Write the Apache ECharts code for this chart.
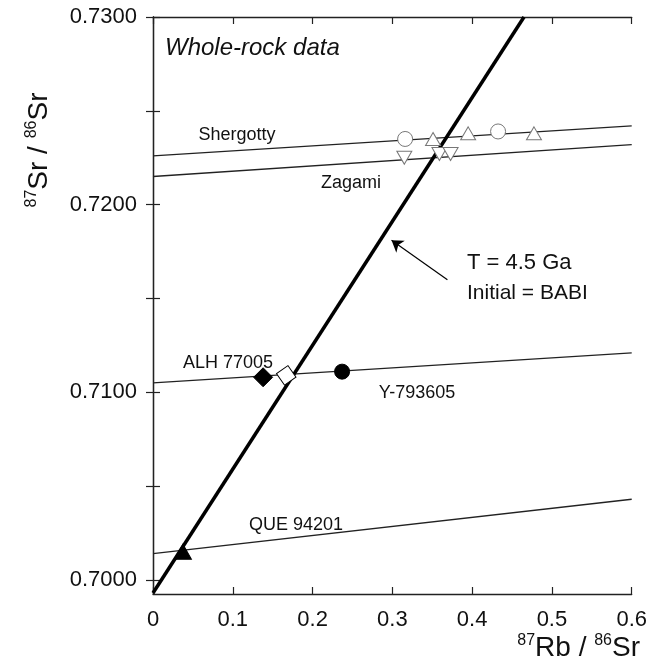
<!DOCTYPE html>
<html>
<head>
<meta charset="utf-8">
<script src="https://cdn.jsdelivr.net/npm/echarts@6.0.0/dist/echarts.min.js"></script>
<style>
  html, body { margin: 0; padding: 0; background: #fff; }
  #main { width: 650px; height: 668px; }
</style>
</head>
<body>
<div id="main"></div>
<script>
// reference lines through each meteorite group [x, y]
var shergottyLine = [[0, 0.7226], [0.6, 0.7242]];
var zagamiLine = [[0, 0.7215], [0.6, 0.7232]];
var alhLine = [[0, 0.7105], [0.6, 0.7121]];
var queLine = [[0, 0.7014], [0.6, 0.7043]];
// 4.5 Ga isochron, initial = BABI
var isochron = [[0, 0.6993], [0.465, 0.7300]];
var arrowPts = [[0.369, 0.7160], [0.299, 0.7181]];

// whole-rock points
var shergottyCircles = [[0.316, 0.7235], [0.4325, 0.7239]];
var shergottyTriangles = [[0.351, 0.7235], [0.395, 0.7238], [0.4775, 0.7238]];
var zagamiTriangles = [[0.315, 0.7225], [0.359, 0.7227], [0.373, 0.7227]];
var alhFilled = [[0.138, 0.7108]];
var alhOpen = [[0.167, 0.7109]];
var yamatoPts = [[0.237, 0.7111]];
var quePts = [[0.0375, 0.7015]];

// axis ticks
var yLabelVals = [0.7000, 0.7100, 0.7200, 0.7300];
var yTickVals = [0.7000, 0.7050, 0.7100, 0.7150, 0.7200, 0.7250, 0.7300];

var FONT = '"Liberation Sans", Arial, Helvetica, sans-serif';
var chart = echarts.init(document.getElementById('main'));

function refLine(data) {
  return {
    type: 'line', data: data, symbol: 'none', z: 2,
    lineStyle: { color: '#222', width: 1.3 }
  };
}
function pts(data, symbol, size, fill, border, rotate) {
  return {
    type: 'scatter', data: data, symbol: symbol, symbolSize: size,
    symbolRotate: rotate || 0, z: 5,
    itemStyle: { color: fill, borderColor: border, borderWidth: 1, opacity: 1 }
  };
}

var tickStyle = { show: true, inside: true, length: 7, lineStyle: { color: '#222', width: 1.2 } };
var axisLineStyle = { show: true, lineStyle: { color: '#222', width: 1.3 } };

var option = {
  animation: false,
  backgroundColor: '#fff',
  grid: { left: 153, right: 17, top: 17, bottom: 74 },
  xAxis: [{
    type: 'value', min: 0, max: 0.6, interval: 0.1,
    axisLine: axisLineStyle, axisTick: tickStyle, splitLine: { show: false },
    axisLabel: {
      color: '#111', fontSize: 22, fontFamily: FONT, margin: 15,
      formatter: function (v) { return v === 0 ? '0' : v.toFixed(1); }
    }
  }, {
    type: 'value', position: 'top', min: 0, max: 0.6, interval: 0.1,
    axisLine: axisLineStyle, axisTick: tickStyle, splitLine: { show: false },
    axisLabel: { show: false }
  }],
  yAxis: [{
    type: 'value', min: 0.69925, max: 0.7300,
    axisLine: axisLineStyle, splitLine: { show: false },
    axisTick: Object.assign({ customValues: yTickVals }, tickStyle),
    axisLabel: {
      customValues: yLabelVals, color: '#111', fontSize: 22, fontFamily: FONT, margin: 16,
      formatter: function (v) { return v.toFixed(4); }
    }
  }, {
    type: 'value', position: 'right', min: 0.69925, max: 0.7300,
    axisLine: axisLineStyle, splitLine: { show: false },
    axisTick: Object.assign({ customValues: yTickVals }, tickStyle),
    axisLabel: { show: false }
  }],
  series: [
    refLine(shergottyLine),
    refLine(zagamiLine),
    refLine(alhLine),
    refLine(queLine),
    {
      type: 'line', data: isochron, symbol: 'none', z: 3,
      lineStyle: { color: '#000', width: 3.5 },
      markLine: {
        silent: true, symbol: ['none', 'arrow'], symbolSize: 11,
        label: { show: false },
        lineStyle: { color: '#000', width: 1.2, type: 'solid' },
        data: [[{ coord: arrowPts[0] }, { coord: arrowPts[1] }]]
      }
    },
    pts(shergottyCircles, 'circle', 15, '#fff', '#777'),
    pts(shergottyTriangles, 'triangle', [15, 13], '#fff', '#777'),
    pts(zagamiTriangles, 'triangle', [15, 13], '#fff', '#777', 180),
    pts(alhFilled, 'diamond', [19, 19], '#000', '#000'),
    pts(alhOpen, 'rect', 14, '#fff', '#000', 35),
    pts(yamatoPts, 'circle', 15, '#000', '#000'),
    pts(quePts, 'triangle', [17, 15], '#000', '#000')
  ],
  graphic: [
    { type: 'text', x: 165, y: 48, style: { text: 'Whole-rock data', font: 'italic 24px ' + FONT, fill: '#111', textVerticalAlign: 'middle' } },
    { type: 'text', x: 237, y: 135, style: { text: 'Shergotty', font: '18px ' + FONT, fill: '#111', textAlign: 'center', textVerticalAlign: 'middle' } },
    { type: 'text', x: 351, y: 183, style: { text: 'Zagami', font: '18px ' + FONT, fill: '#111', textAlign: 'center', textVerticalAlign: 'middle' } },
    { type: 'text', x: 228, y: 363, style: { text: 'ALH 77005', font: '18px ' + FONT, fill: '#111', textAlign: 'center', textVerticalAlign: 'middle' } },
    { type: 'text', x: 417, y: 393, style: { text: 'Y-793605', font: '18px ' + FONT, fill: '#111', textAlign: 'center', textVerticalAlign: 'middle' } },
    { type: 'text', x: 296, y: 525, style: { text: 'QUE 94201', font: '18px ' + FONT, fill: '#111', textAlign: 'center', textVerticalAlign: 'middle' } },
    { type: 'text', x: 467, y: 263, style: { text: 'T = 4.5 Ga', font: '22px ' + FONT, fill: '#111', textVerticalAlign: 'middle' } },
    { type: 'text', x: 467, y: 293, style: { text: 'Initial = BABI', font: '21px ' + FONT, fill: '#111', textVerticalAlign: 'middle' } },
    {
      type: 'text', x: 640, y: 648,
      style: {
        text: '{s|87}{m|Rb / }{s|86}{m|Sr}', textAlign: 'right', textVerticalAlign: 'middle',
        rich: {
          s: { fontSize: 16, fontFamily: FONT, fill: '#111', verticalAlign: 'top', lineHeight: 30 },
          m: { fontSize: 28, fontFamily: FONT, fill: '#111', lineHeight: 30 }
        }
      }
    },
    {
      type: 'text', x: 39, y: 150, rotation: Math.PI / 2,
      style: {
        text: '{s|87}{m|Sr / }{s|86}{m|Sr}', textAlign: 'center', textVerticalAlign: 'middle',
        rich: {
          s: { fontSize: 16, fontFamily: FONT, fill: '#111', verticalAlign: 'top', lineHeight: 30 },
          m: { fontSize: 28, fontFamily: FONT, fill: '#111', lineHeight: 30 }
        }
      }
    }
  ]
};
chart.setOption(option);
</script>
</body>
</html>
